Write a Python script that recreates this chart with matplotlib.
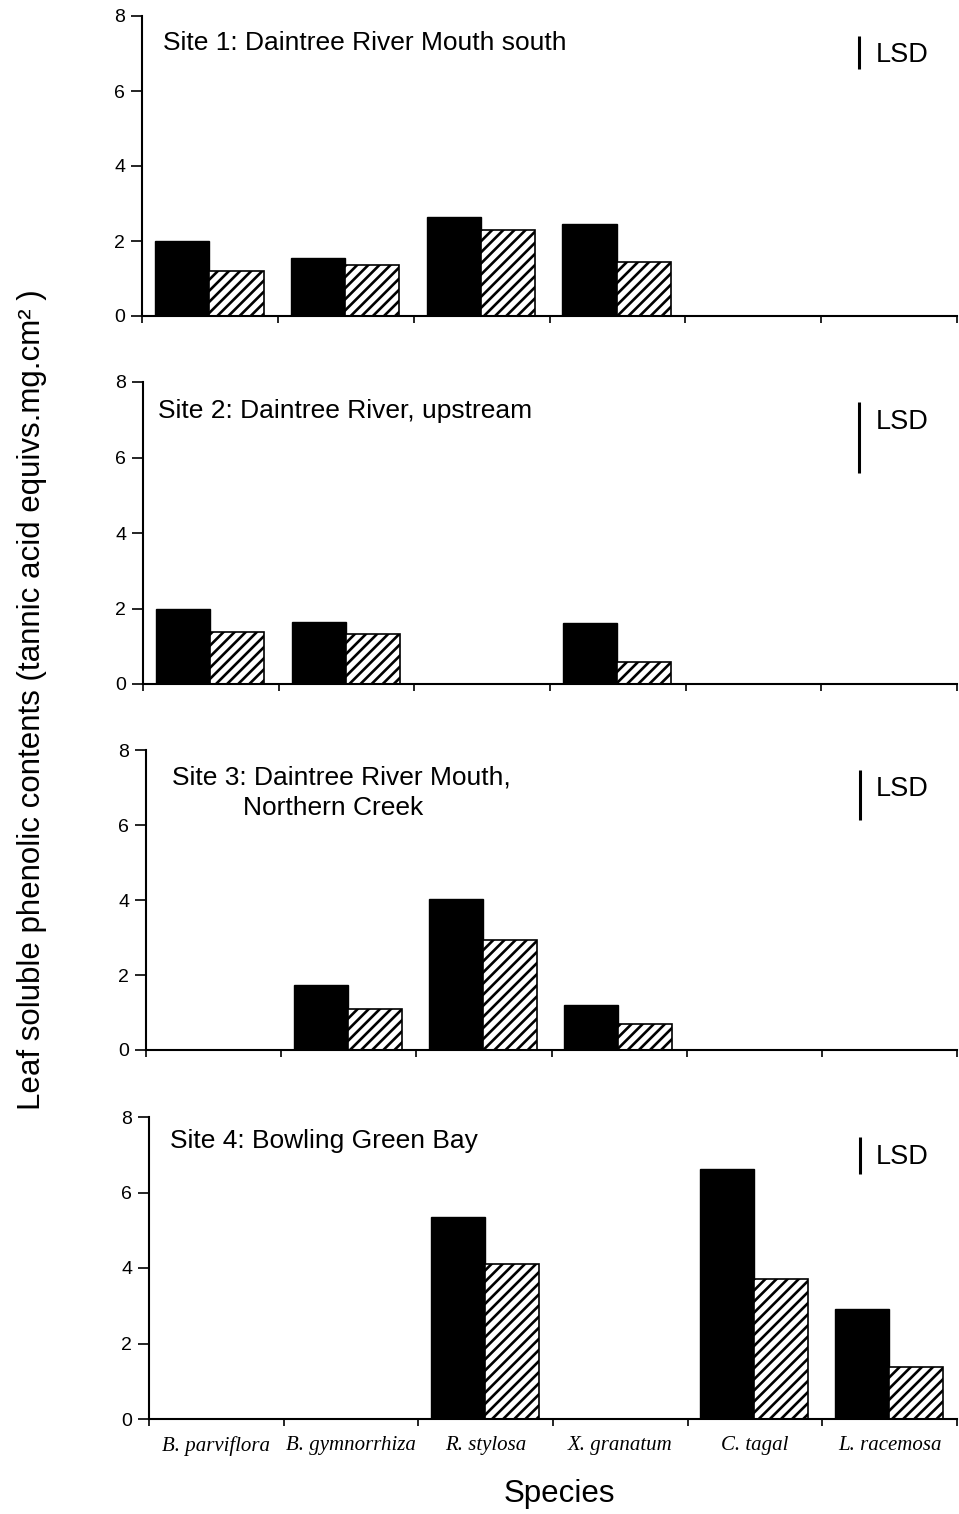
import numpy as np
import matplotlib
matplotlib.use("Agg")
import matplotlib.pyplot as plt

# Data
species = ['B. parviflora', 'B. gymnorrhiza', 'R. stylosa', 'X. granatum', 'C. tagal', 'L. racemosa']
nan = np.nan
site_titles = ['Site 1: Daintree River Mouth south',
               'Site 2: Daintree River, upstream',
               'Site 3: Daintree River Mouth,',
               'Site 4: Bowling Green Bay']
site1_black = [2.0, 1.55, 2.65, 2.45, nan, nan]
site1_hatch = [1.2, 1.35, 2.3, 1.45, nan, nan]
site2_black = [2.0, 1.65, nan, 1.62, nan, nan]
site2_hatch = [1.38, 1.32, nan, 0.58, nan, nan]
site3_black = [nan, 1.73, 4.02, 1.2, nan, nan]
site3_hatch = [nan, 1.1, 2.93, 0.7, nan, nan]
site4_black = [nan, nan, 5.35, nan, 6.62, 2.92]
site4_hatch = [nan, nan, 4.1, nan, 3.7, 1.38]
lsd = [0.9, 1.9, 1.35, 1.0]
y_ticks = [0, 2, 4, 6, 8]

black_sets = [site1_black, site2_black, site3_black, site4_black]
hatch_sets = [site1_hatch, site2_hatch, site3_hatch, site4_hatch]

plt.rcParams['font.family'] = ['Liberation Sans', 'DejaVu Sans']
plt.rcParams['hatch.linewidth'] = 1.9

W, H = 959, 1514
fig = plt.figure(figsize=(W / 100, H / 100), dpi=100)

# pixel boxes: left, top, bottom
boxes = [(142, 16, 316), (143, 382, 684), (146, 750, 1050), (149, 1117, 1419)]
right = 957
title_pos = [(0.026, 0.91), (0.018, 0.904), (0.032, 0.91), (0.026, 0.92)]

x = np.arange(len(species))
for k, (l, t, b) in enumerate(boxes):
    ax = fig.add_axes([l / W, 1 - b / H, (right - l) / W, (b - t) / H])
    ax.bar(x + 0.295, black_sets[k], width=0.4, color='black', edgecolor='black', linewidth=1)
    ax.bar(x + 0.695, hatch_sets[k], width=0.4, color='white', edgecolor='black',
           linewidth=1.2, hatch='///')
    ax.set_xlim(0, 6)
    ax.set_ylim(0, 8)
    ax.set_yticks(y_ticks)
    ax.set_xticks(np.arange(0, 7))
    ax.set_xticklabels([])
    for s in ['top', 'right']:
        ax.spines[s].set_visible(False)
    ax.spines['left'].set_linewidth(1.5)
    ax.spines['bottom'].set_linewidth(1.5)
    ax.tick_params(axis='y', length=8, width=1.2, pad=4, labelsize=14)
    ax.tick_params(axis='x', length=5, width=1.2, direction='out')
    ax.text(title_pos[k][0], title_pos[k][1], site_titles[k], transform=ax.transAxes,
            fontsize=19, va='center', ha='left')
    if k == 2:
        ax.text(0.12, 0.807, 'Northern Creek', transform=ax.transAxes,
                fontsize=19, va='center', ha='left')
    # LSD bar
    ax.plot([5.28, 5.28], [7.48 - lsd[k], 7.48], color='black', lw=2.2, solid_capstyle='butt')
    ax.text(5.4, 6.95, 'LSD', fontsize=19.5, va='center', ha='left')
    if k == 3:
        ax.set_xticks(x + 0.5, minor=True)
        ax.set_xticklabels(species, minor=True, family='Liberation Serif', style='italic',
                           fontsize=15)
        ax.tick_params(axis='x', which='minor', length=0, pad=12)

fig.text(32 / W, 1 - 700 / H,
         'Leaf soluble phenolic contents (tannic acid equivs.mg.cm\u00b2 )',
         rotation=90, fontsize=22.5, ha='center', va='center')
fig.text(559 / W, 1 - 1494 / H, 'Species', fontsize=22.5, ha='center', va='center')

fig.savefig('out.png', dpi=100)
